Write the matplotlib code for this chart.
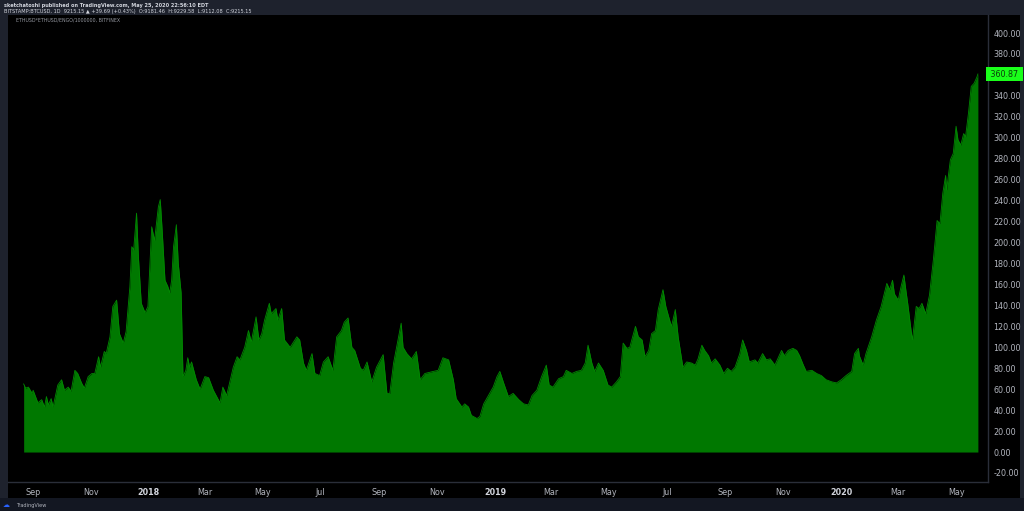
import matplotlib
matplotlib.use("Agg")
import matplotlib.pyplot as plt
import matplotlib.dates as mdates
from matplotlib.ticker import FuncFormatter
import matplotlib.transforms as mtransforms
import pandas as pd

dates = [
    "2017-08-22", "2017-08-24", "2017-08-27", "2017-08-31", "2017-09-01", "2017-09-06", "2017-09-10",
    "2017-09-13", "2017-09-15", "2017-09-17", "2017-09-20", "2017-09-22", "2017-09-27", "2017-10-01",
    "2017-10-04", "2017-10-08", "2017-10-11", "2017-10-15", "2017-10-18", "2017-10-22", "2017-10-25",
    "2017-10-29", "2017-11-02", "2017-11-05", "2017-11-09", "2017-11-11", "2017-11-15", "2017-11-17",
    "2017-11-21", "2017-11-24", "2017-11-28", "2017-12-01", "2017-12-05", "2017-12-08", "2017-12-12",
    "2017-12-14", "2017-12-16", "2017-12-19", "2017-12-21", "2017-12-24", "2017-12-28", "2017-12-31",
    "2018-01-04", "2018-01-07", "2018-01-11", "2018-01-13", "2018-01-15", "2018-01-18", "2018-01-21",
    "2018-01-23", "2018-01-25", "2018-01-27", "2018-01-30", "2018-02-01", "2018-02-04", "2018-02-06",
    "2018-02-09", "2018-02-11", "2018-02-13", "2018-02-15", "2018-02-20", "2018-02-24", "2018-03-01",
    "2018-03-05", "2018-03-10", "2018-03-17", "2018-03-20", "2018-03-24", "2018-03-31", "2018-04-04",
    "2018-04-07", "2018-04-12", "2018-04-16", "2018-04-19", "2018-04-24", "2018-04-27", "2018-04-30",
    "2018-05-03", "2018-05-08", "2018-05-10", "2018-05-15", "2018-05-17", "2018-05-21", "2018-05-24",
    "2018-05-30", "2018-06-06", "2018-06-09", "2018-06-13", "2018-06-16", "2018-06-22", "2018-06-25",
    "2018-06-30", "2018-07-04", "2018-07-09", "2018-07-14", "2018-07-18", "2018-07-23", "2018-07-26",
    "2018-07-30", "2018-08-03", "2018-08-06", "2018-08-12", "2018-08-15", "2018-08-19", "2018-08-24",
    "2018-08-29", "2018-09-05", "2018-09-09", "2018-09-12", "2018-09-16", "2018-09-20", "2018-09-24",
    "2018-09-26", "2018-09-30", "2018-10-05", "2018-10-10", "2018-10-14", "2018-10-19", "2018-10-28",
    "2018-11-02", "2018-11-07", "2018-11-13", "2018-11-18", "2018-11-21", "2018-11-27", "2018-11-30",
    "2018-12-04", "2018-12-07", "2018-12-13", "2018-12-16", "2018-12-20", "2018-12-25", "2018-12-30",
    "2019-01-03", "2019-01-06", "2019-01-10", "2019-01-15", "2019-01-20", "2019-01-26", "2019-01-31",
    "2019-02-05", "2019-02-09", "2019-02-14", "2019-02-19", "2019-02-24", "2019-02-27", "2019-03-03",
    "2019-03-09", "2019-03-14", "2019-03-17", "2019-03-23", "2019-03-28", "2019-04-02", "2019-04-06",
    "2019-04-09", "2019-04-13", "2019-04-16", "2019-04-20", "2019-04-25", "2019-04-30", "2019-05-04",
    "2019-05-09", "2019-05-13", "2019-05-16", "2019-05-20", "2019-05-23", "2019-05-29", "2019-06-01",
    "2019-06-05", "2019-06-08", "2019-06-12", "2019-06-15", "2019-06-19", "2019-06-22", "2019-06-27",
    "2019-06-30", "2019-07-04", "2019-07-06", "2019-07-10", "2019-07-13", "2019-07-18", "2019-07-22",
    "2019-07-27", "2019-07-31", "2019-08-03", "2019-08-07", "2019-08-10", "2019-08-14", "2019-08-17",
    "2019-08-21", "2019-08-26", "2019-08-30", "2019-09-03", "2019-09-07", "2019-09-11", "2019-09-16",
    "2019-09-19", "2019-09-23", "2019-09-26", "2019-10-02", "2019-10-05", "2019-10-10", "2019-10-14",
    "2019-10-18", "2019-10-23", "2019-10-27", "2019-10-30", "2019-11-02", "2019-11-06", "2019-11-11",
    "2019-11-15", "2019-11-18", "2019-11-22", "2019-11-25", "2019-12-01", "2019-12-06", "2019-12-11",
    "2019-12-16", "2019-12-22", "2019-12-27", "2020-01-01", "2020-01-06", "2020-01-12", "2020-01-15",
    "2020-01-19", "2020-01-20", "2020-01-24", "2020-01-27", "2020-02-02", "2020-02-07", "2020-02-12",
    "2020-02-18", "2020-02-21", "2020-02-24", "2020-02-26", "2020-03-01", "2020-03-04", "2020-03-07",
    "2020-03-09", "2020-03-11", "2020-03-15", "2020-03-16", "2020-03-20", "2020-03-23", "2020-03-26",
    "2020-03-30", "2020-04-03", "2020-04-07", "2020-04-11", "2020-04-14", "2020-04-17", "2020-04-20",
    "2020-04-21", "2020-04-25", "2020-04-28", "2020-05-01", "2020-05-03", "2020-05-06", "2020-05-09",
    "2020-05-11", "2020-05-14", "2020-05-17", "2020-05-20", "2020-05-23", "2020-05-24",
]
values = [
    65, 61, 62, 56, 59, 47, 50,
    43, 53, 45, 51, 43, 64, 69,
    59, 62, 58, 78, 75, 66, 61,
    72, 75, 75, 91, 81, 96, 94,
    110, 139, 145, 113, 104, 115, 158,
    196, 193, 228, 186, 142, 133, 139,
    215, 202, 234, 241, 212, 164, 158,
    152, 164, 196, 217, 180, 152, 72,
    78, 90, 81, 86, 69, 60, 72,
    71, 59, 47, 62, 54, 81, 91,
    88, 100, 116, 105, 129, 107, 113,
    126, 142, 132, 137, 126, 137, 107,
    100, 110, 107, 85, 78, 94, 75,
    73, 86, 91, 78, 110, 116, 124,
    128, 100, 97, 80, 78, 86, 67,
    81, 93, 56, 56, 85, 104, 123,
    100, 94, 89, 96, 69, 75, 77,
    78, 90, 88, 69, 51, 43, 46,
    43, 35, 32, 34, 46, 54, 62,
    72, 77, 66, 53, 56, 50, 46,
    45, 54, 59, 72, 83, 64, 62,
    70, 72, 78, 75, 77, 78, 85,
    102, 85, 77, 85, 78, 64, 62,
    67, 72, 104, 99, 100, 120, 110,
    107, 91, 97, 113, 116, 136, 155,
    139, 126, 120, 136, 110, 81, 86,
    85, 83, 89, 102, 97, 92, 85,
    89, 83, 75, 80, 77, 81, 94,
    107, 97, 86, 88, 85, 94, 88,
    89, 83, 91, 97, 92, 97, 99,
    97, 92, 83, 77, 78, 75, 73,
    69, 67, 66, 69, 73, 77, 94,
    99, 92, 83, 94, 110, 126, 139,
    161, 155, 164, 151, 145, 158, 169,
    155, 142, 113, 107, 139, 137, 142,
    132, 150, 183, 221, 218, 247, 264,
    250, 279, 285, 311, 298, 293, 304,
    301, 323, 349, 352, 358, 360.87,
]
# 360.00 is hidden behind the last-value label in the reference
y_ticks = [-20, 0, 20, 40, 60, 80, 100, 120, 140, 160, 180, 200, 220, 240, 260, 280, 300, 320, 340, 380, 400]
last_value = 360.87

header_line1 = "sketchatoshi published on TradingView.com, May 25, 2020 22:56:10 EDT"
header_line2 = "BITSTAMP:BTCUSD, 1D  9215.15 \u25b2 +39.69 (+0.43%)  O:9181.46  H:9229.58  L:9112.08  C:9215.15"
symbol_label = "ETHUSD*ETHUSD/ENGO/1000000, BITFINEX"

x = pd.to_datetime(dates)

W, H = 1024, 511
fig = plt.figure(figsize=(W / 100, H / 100), dpi=100, facecolor="#1e222d")

left, right, top, bottom = 8, 988, 15, 482
ax = fig.add_axes([left / W, 1 - bottom / H, (right - left) / W, (bottom - top) / H])
ax.set_facecolor("#000000")

ax.fill_between(x, values, 0, color="#007800", linewidth=0)
ax.plot(x, values, color="#008a00", linewidth=0.6)

ax.set_xlim(pd.Timestamp("2017-08-05 12:00"), pd.Timestamp("2020-06-03 16:00"))
ax.set_ylim(-28.6, 417.2)

ax.yaxis.tick_right()
ax.set_yticks(y_ticks)
ax.yaxis.set_major_formatter(FuncFormatter(lambda v, p: f"{v:.2f}"))
ax.tick_params(axis="y", length=0, pad=4, labelsize=5.8, labelcolor="#b2b5be")

ax.xaxis.set_major_locator(mdates.MonthLocator(bymonth=[1, 3, 5, 7, 9, 11]))
def fmt_month(v, p):
    d = mdates.num2date(v)
    return str(d.year) if d.month == 1 else d.strftime("%b")
ax.xaxis.set_major_formatter(FuncFormatter(fmt_month))
ax.tick_params(axis="x", length=0, pad=4, labelsize=5.8, labelcolor="#b2b5be")

for s in ["top", "left"]:
    ax.spines[s].set_visible(False)
for s in ["right", "bottom"]:
    ax.spines[s].set_color("#2a2e39")
    ax.spines[s].set_linewidth(1.0)
ax.grid(False)

fig.canvas.draw()
for lab in ax.get_xticklabels():
    if lab.get_text().isdigit():
        lab.set_fontweight("bold")
        lab.set_color("#d1d4dc")

fig.patches.append(plt.Rectangle((right / W, 1 - (bottom + 16) / H), (1020 - right) / W, (bottom + 16 - top) / H,
                                 transform=fig.transFigure, facecolor="#000000", edgecolor="none", zorder=-1))
fig.patches.append(plt.Rectangle((left / W, 1 - (bottom + 16) / H), (right - left) / W, 16 / H,
                                 transform=fig.transFigure, facecolor="#000000", edgecolor="none", zorder=-1))
fig.patches.append(plt.Rectangle((0, 0), 1, 13 / H, transform=fig.transFigure,
                                 facecolor="#131722", edgecolor="none", zorder=-1))

trans = mtransforms.blended_transform_factory(ax.transAxes, ax.transData)
ax.text(1.0, last_value, f" {last_value:.2f} ", transform=trans, ha="left", va="center",
        fontsize=5.8, color="#0b3d0b", clip_on=False,
        bbox=dict(boxstyle="square,pad=0.25", facecolor="#1aff1a", edgecolor="none"))

fig.text(4 / W, 1 - 5 / H, header_line1, fontsize=3.6, color="#d1d4dc", va="center", fontweight="bold")
fig.text(4 / W, 1 - 11 / H, header_line2, fontsize=3.6, color="#d1d4dc", va="center")
ax.text(8 / (right - left), 1 - 5 / (bottom - top), symbol_label, transform=ax.transAxes,
        fontsize=3.4, color="#9598a1", va="center")

fig.text(16 / W, 6 / H, "TradingView", fontsize=3.6, color="#b2b5be", va="center")
fig.text(6 / W, 6 / H, "\u2601", fontsize=5, color="#2962ff", va="center", ha="center")

fig.savefig("out.png", dpi=100, facecolor=fig.get_facecolor())
